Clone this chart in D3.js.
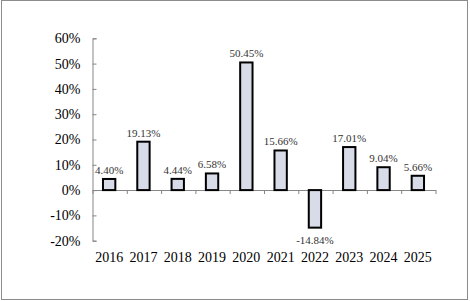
<!DOCTYPE html>
<html>
<head>
<meta charset="utf-8">
<script src="https://cdn.jsdelivr.net/npm/d3@7"></script>
<style>
  body { margin: 0; background: #fff; }
</style>
</head>
<body>
<div id="chart"></div>
<script>
// Data
var years = ["2016", "2017", "2018", "2019", "2020", "2021", "2022", "2023", "2024", "2025"];
var returns = [4.40, 19.13, 4.44, 6.58, 50.45, 15.66, -14.84, 17.01, 9.04, 5.66];
var yTicks = [-20, -10, 0, 10, 20, 30, 40, 50, 60];

var w = 470;
var h = 301;
var serif = "'Liberation Serif', 'Times New Roman', 'DejaVu Serif', serif";

var svg = d3.select("#chart")
  .append("svg")
  .attr("width", w)
  .attr("height", h)
  .style("font-family", serif);

// outer frame
svg.append("rect")
  .attr("x", 1.5)
  .attr("y", 0.5)
  .attr("width", 466)
  .attr("height", 299)
  .style("fill", "none")
  .style("stroke", "#8c8c8c");

// Scales
var xScale = d3.scaleBand()
  .domain(years)
  .range([92, 435])
  .paddingInner(0.64)
  .paddingOuter(0.32);

var yScale = d3.scaleLinear()
  .domain([-20, 60])
  .range([240.7, 38.3]);

// Y axis (ticks point inward)
var yAxis = d3.axisLeft(yScale)
  .tickValues(yTicks)
  .tickSize(-4)
  .tickPadding(12)
  .tickFormat(function(d) { return d + "%"; });

var gy = svg.append("g")
  .attr("transform", "translate(92.5,0)")
  .call(yAxis)
  .attr("font-family", null)
  .attr("font-size", null);
gy.select(".domain").style("stroke", "#868686");
gy.selectAll(".tick line").style("stroke", "#868686");
gy.selectAll(".tick text")
  .style("font-family", serif)
  .style("font-size", "14px")
  .style("fill", "#000");

// X axis along 0%, ticks at category boundaries
var xIdx = d3.scaleLinear().domain([0, years.length]).range([92, 435]);
var xAxis = d3.axisBottom(xIdx)
  .ticks(years.length)
  .tickSize(4)
  .tickSizeOuter(0)
  .tickFormat("");

var gx = svg.append("g")
  .attr("transform", "translate(0.5," + Math.round(yScale(0)) + ")")
  .call(xAxis);
gx.select(".domain").style("stroke", "#868686");
gx.selectAll(".tick line").style("stroke", "#868686");

// Category labels at the bottom
svg.selectAll(".xlabel")
  .data(years)
  .enter().append("text")
  .attr("class", "xlabel")
  .attr("x", function(d) { return xScale(d) + xScale.bandwidth() / 2; })
  .attr("y", 262)
  .style("text-anchor", "middle")
  .style("font-family", serif)
  .style("font-size", "14px")
  .style("fill", "#000")
  .text(function(d) { return d; });

// Bars
svg.selectAll(".bar")
  .data(returns)
  .enter().append("rect")
  .attr("class", "bar")
  .attr("x", function(d, i) { return xScale(years[i]); })
  .attr("y", function(d) { return yScale(Math.max(d, 0)); })
  .attr("width", xScale.bandwidth())
  .attr("height", function(d) { return Math.abs(yScale(d) - yScale(0)); })
  .style("fill", "#d8dce8")
  .style("stroke", "#000")
  .style("stroke-width", 2);

// Value labels
svg.selectAll(".vlabel")
  .data(returns)
  .enter().append("text")
  .attr("class", "vlabel")
  .attr("x", function(d, i) { return xScale(years[i]) + xScale.bandwidth() / 2; })
  .attr("y", function(d) { return d >= 0 ? yScale(d) - 5 : yScale(d) + 16; })
  .style("text-anchor", "middle")
  .style("font-family", serif)
  .style("font-size", "11px")
  .style("fill", "#333")
  .text(function(d) { return d.toFixed(2) + "%"; });
</script>
</body>
</html>
